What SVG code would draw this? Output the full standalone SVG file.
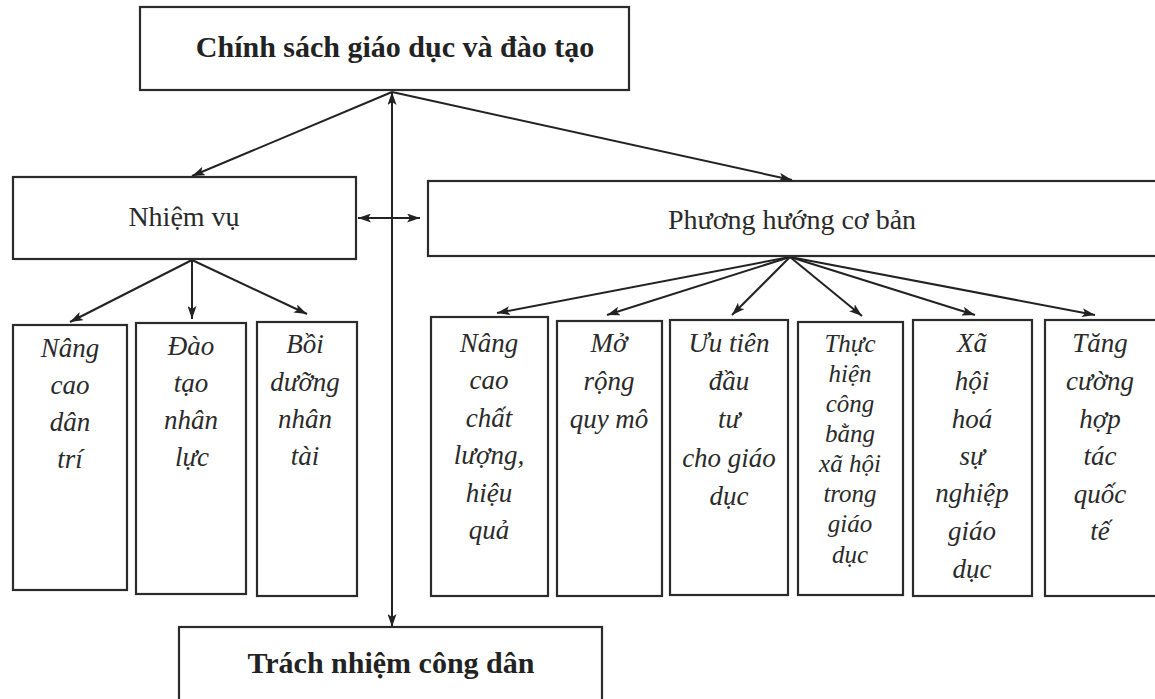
<svg xmlns="http://www.w3.org/2000/svg" width="1155" height="699" viewBox="0 0 1155 699">
<style>
.box{fill:#fff;stroke:#2b2b2b;stroke-width:2.2}
.ln{fill:none;stroke:#222;stroke-width:2}
.tb{font-family:"Liberation Serif","Times New Roman",serif;font-weight:bold;font-size:30px;fill:#222;text-anchor:middle}
.tr{font-family:"Liberation Serif","Times New Roman",serif;font-size:28px;fill:#2a2a2a;text-anchor:middle}
.ti{font-family:"Liberation Serif","Times New Roman",serif;font-style:italic;font-size:27px;fill:#2a2a2a;text-anchor:middle}
.ts{font-size:25px}
</style>
<defs>
<marker id="ah" viewBox="0 0 13 9" refX="13" refY="4.5" markerWidth="13" markerHeight="9" markerUnits="userSpaceOnUse" orient="auto-start-reverse">
<path d="M0,0 L13,4.5 L0,9 L3,4.5 z" fill="#222"/>
</marker>
</defs>
<rect width="1155" height="699" fill="#fff"/>
<g id="connectors">
<line class="ln" x1="392" y1="92" x2="192" y2="176" marker-end="url(#ah)"/>
<line class="ln" x1="392" y1="92" x2="792" y2="180" marker-end="url(#ah)"/>
<line class="ln" x1="392" y1="92" x2="392" y2="627" marker-start="url(#ah)" marker-end="url(#ah)"/>
<line class="ln" x1="358" y1="218" x2="420" y2="218" marker-start="url(#ah)" marker-end="url(#ah)"/>
<line class="ln" x1="192" y1="260" x2="70" y2="322" marker-end="url(#ah)"/>
<line class="ln" x1="192" y1="260" x2="192" y2="319" marker-end="url(#ah)"/>
<line class="ln" x1="192" y1="260" x2="307" y2="314" marker-end="url(#ah)"/>
<line class="ln" x1="790" y1="257" x2="497" y2="313" marker-end="url(#ah)"/>
<line class="ln" x1="790" y1="257" x2="607" y2="315" marker-end="url(#ah)"/>
<line class="ln" x1="790" y1="257" x2="732" y2="315" marker-end="url(#ah)"/>
<line class="ln" x1="790" y1="257" x2="862" y2="316" marker-end="url(#ah)"/>
<line class="ln" x1="790" y1="257" x2="975" y2="315" marker-end="url(#ah)"/>
<line class="ln" x1="790" y1="257" x2="1095" y2="315" marker-end="url(#ah)"/>
</g>
<g id="chinh-sach">
<rect class="box" x="140" y="7" width="489" height="83"/>
<text class="tb" x="395" y="57">Chính sách giáo dục và đào tạo</text>
</g>
<g id="nhiem-vu">
<rect class="box" x="13" y="177" width="343" height="82"/>
<text class="tr" x="184" y="226">Nhiệm vụ</text>
</g>
<g id="phuong-huong">
<rect class="box" x="428" y="181" width="740" height="75"/>
<text class="tr" x="792" y="229">Phương hướng cơ bản</text>
</g>
<g id="nang-cao-dan-tri">
<rect class="box" x="13" y="325" width="114" height="265"/>
<text class="ti" x="70" y="357">Nâng</text>
<text class="ti" x="70" y="394">cao</text>
<text class="ti" x="70" y="431">dân</text>
<text class="ti" x="70" y="468">trí</text>
</g>
<g id="dao-tao-nhan-luc">
<rect class="box" x="136" y="323" width="110" height="271"/>
<text class="ti" x="191" y="355">Đào</text>
<text class="ti" x="191" y="392">tạo</text>
<text class="ti" x="191" y="429">nhân</text>
<text class="ti" x="192" y="466">lực</text>
</g>
<g id="boi-duong-nhan-tai">
<rect class="box" x="257" y="322" width="100" height="274"/>
<text class="ti" x="305" y="353">Bồi</text>
<text class="ti" x="305" y="391">dưỡng</text>
<text class="ti" x="305" y="428">nhân</text>
<text class="ti" x="305" y="465">tài</text>
</g>
<g id="nang-cao-chat-luong">
<rect class="box" x="431" y="317" width="117" height="279"/>
<text class="ti" x="489" y="352">Nâng</text>
<text class="ti" x="489" y="389">cao</text>
<text class="ti" x="489" y="427">chất</text>
<text class="ti" x="489" y="464">lượng,</text>
<text class="ti" x="489" y="502">hiệu</text>
<text class="ti" x="489" y="539">quả</text>
</g>
<g id="mo-rong-quy-mo">
<rect class="box" x="557" y="321" width="105" height="275"/>
<text class="ti" x="609" y="352">Mở</text>
<text class="ti" x="609" y="390">rộng</text>
<text class="ti" x="609" y="428">quy mô</text>
</g>
<g id="uu-tien-dau-tu">
<rect class="box" x="670" y="320" width="118" height="275"/>
<text class="ti" x="729" y="352">Ưu tiên</text>
<text class="ti" x="729" y="390">đầu</text>
<text class="ti" x="729" y="428">tư</text>
<text class="ti" x="729" y="467">cho giáo</text>
<text class="ti" x="729" y="505">dục</text>
</g>
<g id="thuc-hien-cong-bang">
<rect class="box" x="798" y="322" width="105" height="273"/>
<text class="ti ts" x="850" y="352">Thực</text>
<text class="ti ts" x="850" y="382">hiện</text>
<text class="ti ts" x="850" y="412">công</text>
<text class="ti ts" x="850" y="442">bằng</text>
<text class="ti ts" x="850" y="472">xã hội</text>
<text class="ti ts" x="850" y="502">trong</text>
<text class="ti ts" x="850" y="532">giáo</text>
<text class="ti ts" x="850" y="563">dục</text>
</g>
<g id="xa-hoi-hoa">
<rect class="box" x="913" y="320" width="119" height="276"/>
<text class="ti" x="972" y="352">Xã</text>
<text class="ti" x="972" y="390">hội</text>
<text class="ti" x="972" y="428">hoá</text>
<text class="ti" x="972" y="465">sự</text>
<text class="ti" x="972" y="502">nghiệp</text>
<text class="ti" x="972" y="540">giáo</text>
<text class="ti" x="972" y="578">dục</text>
</g>
<g id="tang-cuong-hop-tac">
<rect class="box" x="1045" y="320" width="120" height="276"/>
<text class="ti" x="1100" y="352">Tăng</text>
<text class="ti" x="1100" y="390">cường</text>
<text class="ti" x="1100" y="428">hợp</text>
<text class="ti" x="1100" y="465">tác</text>
<text class="ti" x="1100" y="503">quốc</text>
<text class="ti" x="1100" y="540">tế</text>
</g>
<g id="trach-nhiem">
<rect class="box" x="179" y="627" width="423" height="90"/>
<text class="tb" x="391" y="673">Trách nhiệm công dân</text>
</g>
</svg>
